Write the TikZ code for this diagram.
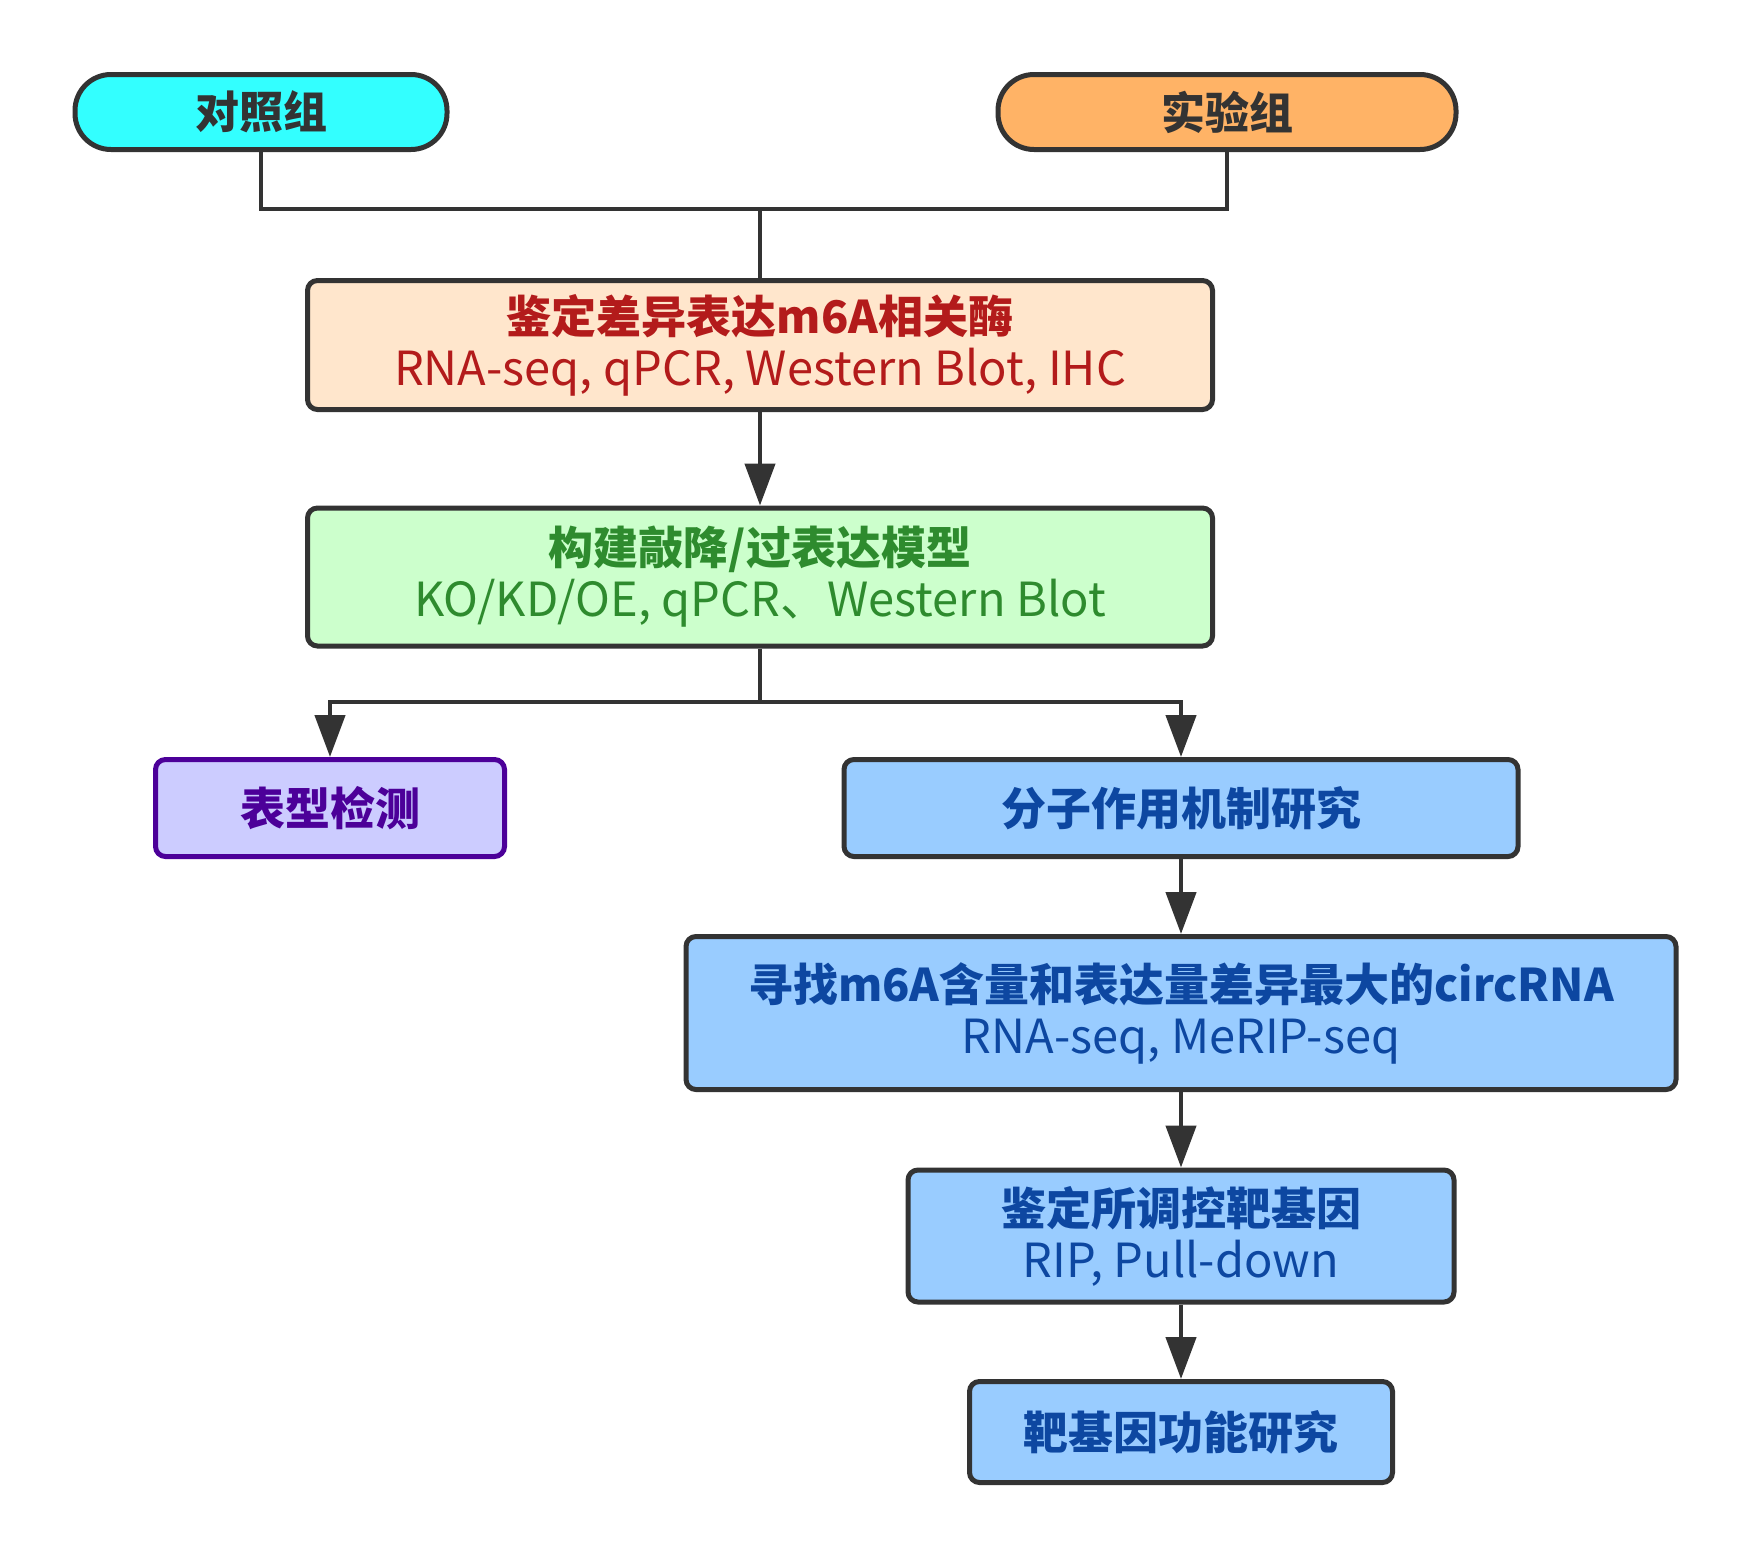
\documentclass[tikz,border=0pt]{standalone}
\usepackage{fontspec}
\setmainfont{Noto Sans CJK SC}
\usetikzlibrary{arrows.meta}
\definecolor{edge}{HTML}{333333}
\definecolor{cyanfill}{HTML}{33FFFF}
\definecolor{orangefill}{HTML}{FFB366}
\definecolor{peach}{HTML}{FFE6CC}
\definecolor{redtxt}{HTML}{B31B1B}
\definecolor{mint}{HTML}{CCFFCC}
\definecolor{greentxt}{HTML}{2E8B2E}
\definecolor{lav}{HTML}{CCCCFF}
\definecolor{purp}{HTML}{4C0099}
\definecolor{sky}{HTML}{99CCFF}
\definecolor{bluetxt}{HTML}{0D47A1}
\newcommand{\ttl}[1]{{\fontsize{45}{52}\selectfont\bfseries #1}}
\newcommand{\sub}[1]{{\fontsize{47}{52}\selectfont #1}}
\tikzset{
  x=1pt, y=-1pt,
  term/.style={draw=edge, line width=5pt, rounded corners=36pt, inner sep=0pt,
    minimum height=75pt, text=edge, font=\fontsize{44}{48}\selectfont\bfseries},
  stepbox/.style={draw=edge, line width=5pt, rounded corners=10pt, inner sep=0pt,
    align=center, font=\fontsize{45}{52}\selectfont},
  conn/.style={draw=edge, line width=4.5pt},
  arr/.style={conn, -{Triangle[length=42pt,width=30pt]}},
}
\begin{document}
\begin{tikzpicture}
\useasboundingbox (0,0) rectangle (1752,1556);
\node[term, fill=cyanfill, minimum width=372pt] (ctrl) at (261,112) {对照组};
\node[term, fill=orangefill, minimum width=458pt] (exp) at (1227,112) {实验组};
\node[stepbox, fill=peach, text=redtxt, minimum width=905pt, minimum height=129pt] (b1) at (760,345)
  {\ttl{鉴定差异表达m6A相关酶}\\\sub{RNA-seq, qPCR, Western Blot, IHC}};
\node[stepbox, fill=mint, text=greentxt, minimum width=905pt, minimum height=138pt] (b2) at (760,577)
  {\ttl{构建敲降/过表达模型}\\\sub{KO/KD/OE, qPCR、Western Blot}};
\node[stepbox, draw=purp, fill=lav, text=purp, minimum width=349pt, minimum height=97pt] (ph) at (330,808)
  {\ttl{表型检测}};
\node[stepbox, fill=sky, text=bluetxt, minimum width=674pt, minimum height=97pt] (mol) at (1181,808)
  {\ttl{分子作用机制研究}};
\node[stepbox, fill=sky, text=bluetxt, minimum width=990pt, minimum height=153pt] (circ) at (1181,1013)
  {\ttl{寻找m6A含量和表达量差异最大的circRNA}\\\sub{RNA-seq, MeRIP-seq}};
\node[stepbox, fill=sky, text=bluetxt, minimum width=546pt, minimum height=132pt] (tg) at (1181,1236)
  {\ttl{鉴定所调控靶基因}\\\sub{RIP, Pull-down}};
\node[stepbox, fill=sky, text=bluetxt, minimum width=423pt, minimum height=101pt] (fn) at (1181,1432)
  {\ttl{靶基因功能研究}};
\coordinate (m) at (760,209);
\coordinate (s) at (760,702);
\draw[conn] (ctrl.south) |- (m) -| (exp.south);
\draw[conn] (m) -- (b1.north);
\draw[arr] (b1.south) -- (b2.north);
\draw[conn] (b2.south) -- (s);
\draw[arr] (s) -| (ph.north);
\draw[arr] (s) -| (mol.north);
\draw[arr] (mol.south) -- (circ.north);
\draw[arr] (circ.south) -- (tg.north);
\draw[arr] (tg.south) -- (fn.north);
\end{tikzpicture}
\end{document}
